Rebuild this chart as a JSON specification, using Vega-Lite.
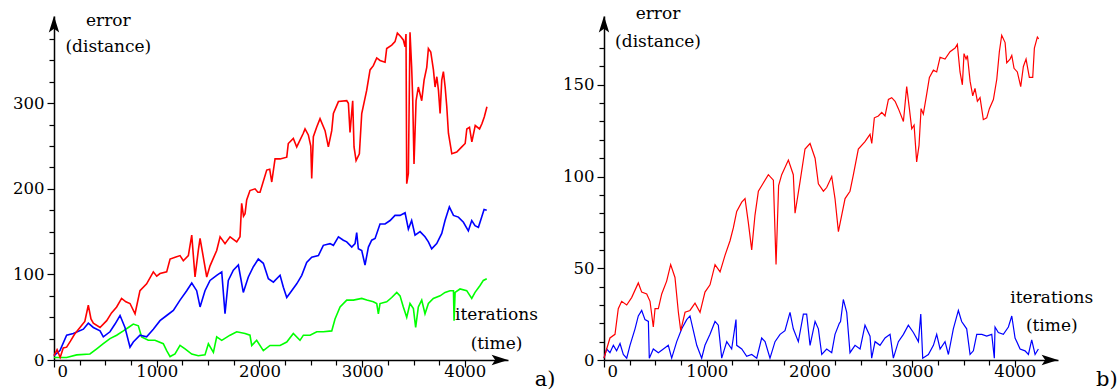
{
  "$schema": "https://vega.github.io/schema/vega-lite/v6.json",
  "padding": {"left": 12, "top": 5, "right": 0, "bottom": 0},
  "background": "white",
  "spacing": 96,
  "bounds": "flush",
  "datasets": {
    "one": [{}],
    "a": [
      {"s":"green","x":0,"y":3},{"s":"green","x":123,"y":3},{"s":"green","x":221,"y":6},{"s":"green","x":350,"y":7},{"s":"green","x":416,"y":13},{"s":"green","x":480,"y":19},{"s":"green","x":545,"y":25},{"s":"green","x":610,"y":29},{"s":"green","x":675,"y":34},{"s":"green","x":724,"y":38},{"s":"green","x":772,"y":42},{"s":"green","x":821,"y":40},{"s":"green","x":853,"y":27},{"s":"green","x":918,"y":23},{"s":"green","x":983,"y":23},{"s":"green","x":1064,"y":19},{"s":"green","x":1097,"y":11},{"s":"green","x":1130,"y":4},{"s":"green","x":1178,"y":7},{"s":"green","x":1227,"y":17},{"s":"green","x":1276,"y":13},{"s":"green","x":1341,"y":7},{"s":"green","x":1405,"y":5},{"s":"green","x":1470,"y":6},{"s":"green","x":1503,"y":19},{"s":"green","x":1552,"y":9},{"s":"green","x":1584,"y":27},{"s":"green","x":1633,"y":23},{"s":"green","x":1714,"y":29},{"s":"green","x":1779,"y":33},{"s":"green","x":1860,"y":31},{"s":"green","x":1908,"y":29},{"s":"green","x":1925,"y":17},{"s":"green","x":1973,"y":23},{"s":"green","x":2038,"y":11},{"s":"green","x":2103,"y":17},{"s":"green","x":2201,"y":17},{"s":"green","x":2266,"y":21},{"s":"green","x":2330,"y":31},{"s":"green","x":2395,"y":23},{"s":"green","x":2428,"y":29},{"s":"green","x":2493,"y":29},{"s":"green","x":2558,"y":33},{"s":"green","x":2622,"y":33},{"s":"green","x":2704,"y":34},{"s":"green","x":2736,"y":48},{"s":"green","x":2785,"y":62},{"s":"green","x":2850,"y":70},{"s":"green","x":2915,"y":70},{"s":"green","x":2996,"y":72},{"s":"green","x":3045,"y":70},{"s":"green","x":3109,"y":68},{"s":"green","x":3142,"y":66},{"s":"green","x":3158,"y":54},{"s":"green","x":3174,"y":66},{"s":"green","x":3239,"y":68},{"s":"green","x":3288,"y":73},{"s":"green","x":3337,"y":79},{"s":"green","x":3369,"y":75},{"s":"green","x":3401,"y":62},{"s":"green","x":3434,"y":50},{"s":"green","x":3466,"y":66},{"s":"green","x":3499,"y":60},{"s":"green","x":3521,"y":38},{"s":"green","x":3547,"y":62},{"s":"green","x":3580,"y":70},{"s":"green","x":3612,"y":54},{"s":"green","x":3645,"y":66},{"s":"green","x":3693,"y":72},{"s":"green","x":3759,"y":75},{"s":"green","x":3807,"y":79},{"s":"green","x":3856,"y":81},{"s":"green","x":3889,"y":81},{"s":"green","x":3895,"y":46},{"s":"green","x":3905,"y":79},{"s":"green","x":3953,"y":83},{"s":"green","x":4018,"y":81},{"s":"green","x":4067,"y":72},{"s":"green","x":4099,"y":79},{"s":"green","x":4148,"y":87},{"s":"green","x":4180,"y":93},{"s":"green","x":4213,"y":95},
      {"s":"blue","x":0,"y":5},{"s":"blue","x":58,"y":11},{"s":"blue","x":123,"y":29},{"s":"blue","x":188,"y":31},{"s":"blue","x":286,"y":36},{"s":"blue","x":334,"y":43},{"s":"blue","x":383,"y":38},{"s":"blue","x":448,"y":34},{"s":"blue","x":480,"y":27},{"s":"blue","x":545,"y":33},{"s":"blue","x":594,"y":42},{"s":"blue","x":643,"y":52},{"s":"blue","x":691,"y":38},{"s":"blue","x":740,"y":15},{"s":"blue","x":772,"y":21},{"s":"blue","x":837,"y":29},{"s":"blue","x":902,"y":27},{"s":"blue","x":967,"y":36},{"s":"blue","x":1032,"y":46},{"s":"blue","x":1097,"y":52},{"s":"blue","x":1162,"y":58},{"s":"blue","x":1227,"y":70},{"s":"blue","x":1292,"y":81},{"s":"blue","x":1341,"y":90},{"s":"blue","x":1389,"y":81},{"s":"blue","x":1422,"y":62},{"s":"blue","x":1470,"y":81},{"s":"blue","x":1519,"y":93},{"s":"blue","x":1584,"y":99},{"s":"blue","x":1633,"y":103},{"s":"blue","x":1665,"y":54},{"s":"blue","x":1697,"y":93},{"s":"blue","x":1746,"y":105},{"s":"blue","x":1795,"y":111},{"s":"blue","x":1843,"y":79},{"s":"blue","x":1892,"y":97},{"s":"blue","x":1941,"y":109},{"s":"blue","x":1989,"y":118},{"s":"blue","x":2038,"y":113},{"s":"blue","x":2087,"y":95},{"s":"blue","x":2136,"y":91},{"s":"blue","x":2201,"y":99},{"s":"blue","x":2233,"y":85},{"s":"blue","x":2266,"y":73},{"s":"blue","x":2314,"y":81},{"s":"blue","x":2363,"y":89},{"s":"blue","x":2412,"y":99},{"s":"blue","x":2460,"y":114},{"s":"blue","x":2509,"y":120},{"s":"blue","x":2574,"y":122},{"s":"blue","x":2622,"y":134},{"s":"blue","x":2687,"y":136},{"s":"blue","x":2720,"y":134},{"s":"blue","x":2769,"y":144},{"s":"blue","x":2817,"y":140},{"s":"blue","x":2850,"y":138},{"s":"blue","x":2899,"y":132},{"s":"blue","x":2931,"y":136},{"s":"blue","x":2947,"y":149},{"s":"blue","x":2963,"y":130},{"s":"blue","x":2996,"y":128},{"s":"blue","x":3028,"y":111},{"s":"blue","x":3061,"y":132},{"s":"blue","x":3093,"y":140},{"s":"blue","x":3126,"y":142},{"s":"blue","x":3174,"y":159},{"s":"blue","x":3223,"y":159},{"s":"blue","x":3272,"y":163},{"s":"blue","x":3320,"y":169},{"s":"blue","x":3369,"y":169},{"s":"blue","x":3418,"y":172},{"s":"blue","x":3450,"y":153},{"s":"blue","x":3482,"y":163},{"s":"blue","x":3515,"y":146},{"s":"blue","x":3564,"y":150},{"s":"blue","x":3612,"y":144},{"s":"blue","x":3645,"y":138},{"s":"blue","x":3677,"y":130},{"s":"blue","x":3726,"y":136},{"s":"blue","x":3775,"y":148},{"s":"blue","x":3807,"y":163},{"s":"blue","x":3849,"y":179},{"s":"blue","x":3889,"y":169},{"s":"blue","x":3937,"y":167},{"s":"blue","x":3986,"y":161},{"s":"blue","x":4034,"y":151},{"s":"blue","x":4067,"y":163},{"s":"blue","x":4099,"y":157},{"s":"blue","x":4132,"y":155},{"s":"blue","x":4164,"y":167},{"s":"blue","x":4187,"y":176},{"s":"blue","x":4213,"y":175},
      {"s":"red","x":0,"y":5},{"s":"red","x":30,"y":12},{"s":"red","x":60,"y":3},{"s":"red","x":90,"y":14},{"s":"red","x":123,"y":15},{"s":"red","x":160,"y":22},{"s":"red","x":200,"y":30},{"s":"red","x":253,"y":38},{"s":"red","x":300,"y":45},{"s":"red","x":334,"y":64},{"s":"red","x":360,"y":48},{"s":"red","x":383,"y":43},{"s":"red","x":448,"y":38},{"s":"red","x":513,"y":46},{"s":"red","x":560,"y":55},{"s":"red","x":610,"y":62},{"s":"red","x":658,"y":72},{"s":"red","x":700,"y":68},{"s":"red","x":740,"y":66},{"s":"red","x":789,"y":54},{"s":"red","x":837,"y":81},{"s":"red","x":902,"y":89},{"s":"red","x":967,"y":103},{"s":"red","x":1000,"y":98},{"s":"red","x":1032,"y":101},{"s":"red","x":1097,"y":103},{"s":"red","x":1130,"y":118},{"s":"red","x":1180,"y":120},{"s":"red","x":1227,"y":122},{"s":"red","x":1259,"y":116},{"s":"red","x":1308,"y":122},{"s":"red","x":1341,"y":146},{"s":"red","x":1373,"y":97},{"s":"red","x":1405,"y":128},{"s":"red","x":1422,"y":142},{"s":"red","x":1454,"y":120},{"s":"red","x":1487,"y":97},{"s":"red","x":1519,"y":110},{"s":"red","x":1584,"y":128},{"s":"red","x":1617,"y":144},{"s":"red","x":1665,"y":136},{"s":"red","x":1714,"y":144},{"s":"red","x":1779,"y":138},{"s":"red","x":1811,"y":144},{"s":"red","x":1827,"y":183},{"s":"red","x":1845,"y":168},{"s":"red","x":1860,"y":171},{"s":"red","x":1876,"y":187},{"s":"red","x":1908,"y":198},{"s":"red","x":1957,"y":200},{"s":"red","x":1985,"y":196},{"s":"red","x":2006,"y":196},{"s":"red","x":2071,"y":222},{"s":"red","x":2100,"y":223},{"s":"red","x":2120,"y":208},{"s":"red","x":2152,"y":235},{"s":"red","x":2201,"y":235},{"s":"red","x":2266,"y":237},{"s":"red","x":2281,"y":253},{"s":"red","x":2330,"y":259},{"s":"red","x":2363,"y":249},{"s":"red","x":2427,"y":265},{"s":"red","x":2444,"y":270},{"s":"red","x":2476,"y":263},{"s":"red","x":2500,"y":250},{"s":"red","x":2509,"y":212},{"s":"red","x":2525,"y":261},{"s":"red","x":2557,"y":272},{"s":"red","x":2590,"y":282},{"s":"red","x":2639,"y":268},{"s":"red","x":2671,"y":249},{"s":"red","x":2704,"y":268},{"s":"red","x":2720,"y":288},{"s":"red","x":2769,"y":302},{"s":"red","x":2850,"y":303},{"s":"red","x":2866,"y":300},{"s":"red","x":2882,"y":266},{"s":"red","x":2908,"y":303},{"s":"red","x":2921,"y":249},{"s":"red","x":2941,"y":233},{"s":"red","x":2973,"y":241},{"s":"red","x":2996,"y":288},{"s":"red","x":3044,"y":315},{"s":"red","x":3077,"y":339},{"s":"red","x":3109,"y":344},{"s":"red","x":3142,"y":353},{"s":"red","x":3174,"y":350},{"s":"red","x":3223,"y":348},{"s":"red","x":3239,"y":364},{"s":"red","x":3288,"y":368},{"s":"red","x":3320,"y":372},{"s":"red","x":3343,"y":382},{"s":"red","x":3375,"y":378},{"s":"red","x":3401,"y":374},{"s":"red","x":3418,"y":366},{"s":"red","x":3427,"y":381},{"s":"red","x":3434,"y":206},{"s":"red","x":3450,"y":218},{"s":"red","x":3466,"y":383},{"s":"red","x":3482,"y":342},{"s":"red","x":3492,"y":307},{"s":"red","x":3505,"y":229},{"s":"red","x":3525,"y":303},{"s":"red","x":3547,"y":319},{"s":"red","x":3580,"y":303},{"s":"red","x":3603,"y":327},{"s":"red","x":3629,"y":342},{"s":"red","x":3645,"y":364},{"s":"red","x":3668,"y":360},{"s":"red","x":3694,"y":339},{"s":"red","x":3710,"y":319},{"s":"red","x":3727,"y":331},{"s":"red","x":3743,"y":315},{"s":"red","x":3759,"y":288},{"s":"red","x":3775,"y":327},{"s":"red","x":3791,"y":337},{"s":"red","x":3808,"y":319},{"s":"red","x":3824,"y":296},{"s":"red","x":3840,"y":265},{"s":"red","x":3873,"y":241},{"s":"red","x":3921,"y":243},{"s":"red","x":3970,"y":249},{"s":"red","x":4003,"y":253},{"s":"red","x":4019,"y":270},{"s":"red","x":4045,"y":272},{"s":"red","x":4068,"y":255},{"s":"red","x":4101,"y":274},{"s":"red","x":4143,"y":270},{"s":"red","x":4166,"y":276},{"s":"red","x":4189,"y":284},{"s":"red","x":4215,"y":296}
    ],
    "b": [
      {"s":"blue","x":0,"y":1},{"s":"blue","x":26,"y":6},{"s":"blue","x":58,"y":4},{"s":"blue","x":91,"y":8},{"s":"blue","x":123,"y":5},{"s":"blue","x":156,"y":9},{"s":"blue","x":188,"y":3},{"s":"blue","x":221,"y":1},{"s":"blue","x":253,"y":8},{"s":"blue","x":302,"y":17},{"s":"blue","x":334,"y":24},{"s":"blue","x":367,"y":27},{"s":"blue","x":399,"y":22},{"s":"blue","x":432,"y":21},{"s":"blue","x":441,"y":1},{"s":"blue","x":480,"y":6},{"s":"blue","x":529,"y":4},{"s":"blue","x":578,"y":6},{"s":"blue","x":626,"y":8},{"s":"blue","x":659,"y":1},{"s":"blue","x":708,"y":10},{"s":"blue","x":757,"y":17},{"s":"blue","x":805,"y":22},{"s":"blue","x":837,"y":24},{"s":"blue","x":870,"y":16},{"s":"blue","x":903,"y":8},{"s":"blue","x":951,"y":1},{"s":"blue","x":983,"y":8},{"s":"blue","x":1032,"y":14},{"s":"blue","x":1081,"y":21},{"s":"blue","x":1113,"y":19},{"s":"blue","x":1146,"y":1},{"s":"blue","x":1195,"y":10},{"s":"blue","x":1243,"y":6},{"s":"blue","x":1285,"y":22},{"s":"blue","x":1292,"y":8},{"s":"blue","x":1341,"y":6},{"s":"blue","x":1389,"y":2},{"s":"blue","x":1438,"y":3},{"s":"blue","x":1487,"y":1},{"s":"blue","x":1535,"y":12},{"s":"blue","x":1568,"y":10},{"s":"blue","x":1616,"y":1},{"s":"blue","x":1665,"y":10},{"s":"blue","x":1714,"y":14},{"s":"blue","x":1762,"y":16},{"s":"blue","x":1811,"y":26},{"s":"blue","x":1843,"y":17},{"s":"blue","x":1892,"y":10},{"s":"blue","x":1941,"y":25},{"s":"blue","x":1973,"y":25},{"s":"blue","x":2006,"y":8},{"s":"blue","x":2055,"y":21},{"s":"blue","x":2087,"y":17},{"s":"blue","x":2120,"y":3},{"s":"blue","x":2168,"y":6},{"s":"blue","x":2217,"y":4},{"s":"blue","x":2249,"y":14},{"s":"blue","x":2291,"y":20},{"s":"blue","x":2303,"y":21},{"s":"blue","x":2330,"y":33},{"s":"blue","x":2363,"y":26},{"s":"blue","x":2395,"y":4},{"s":"blue","x":2444,"y":8},{"s":"blue","x":2493,"y":6},{"s":"blue","x":2541,"y":19},{"s":"blue","x":2590,"y":13},{"s":"blue","x":2606,"y":1},{"s":"blue","x":2639,"y":10},{"s":"blue","x":2687,"y":8},{"s":"blue","x":2736,"y":12},{"s":"blue","x":2785,"y":14},{"s":"blue","x":2817,"y":1},{"s":"blue","x":2866,"y":10},{"s":"blue","x":2915,"y":14},{"s":"blue","x":2963,"y":19},{"s":"blue","x":3012,"y":15},{"s":"blue","x":3061,"y":10},{"s":"blue","x":3084,"y":25},{"s":"blue","x":3103,"y":1},{"s":"blue","x":3158,"y":3},{"s":"blue","x":3207,"y":8},{"s":"blue","x":3239,"y":14},{"s":"blue","x":3272,"y":6},{"s":"blue","x":3320,"y":10},{"s":"blue","x":3353,"y":3},{"s":"blue","x":3401,"y":17},{"s":"blue","x":3450,"y":27},{"s":"blue","x":3482,"y":21},{"s":"blue","x":3531,"y":17},{"s":"blue","x":3564,"y":3},{"s":"blue","x":3596,"y":5},{"s":"blue","x":3629,"y":14},{"s":"blue","x":3678,"y":14},{"s":"blue","x":3726,"y":13},{"s":"blue","x":3775,"y":14},{"s":"blue","x":3800,"y":1},{"s":"blue","x":3807,"y":18},{"s":"blue","x":3839,"y":15},{"s":"blue","x":3888,"y":14},{"s":"blue","x":3937,"y":18},{"s":"blue","x":3970,"y":24},{"s":"blue","x":4002,"y":12},{"s":"blue","x":4051,"y":6},{"s":"blue","x":4099,"y":5},{"s":"blue","x":4132,"y":3},{"s":"blue","x":4164,"y":11},{"s":"blue","x":4197,"y":3},{"s":"blue","x":4229,"y":6},
      {"s":"red","x":0,"y":1},{"s":"red","x":26,"y":6},{"s":"red","x":58,"y":12},{"s":"red","x":107,"y":14},{"s":"red","x":139,"y":28},{"s":"red","x":172,"y":32},{"s":"red","x":221,"y":30},{"s":"red","x":269,"y":34},{"s":"red","x":334,"y":42},{"s":"red","x":367,"y":37},{"s":"red","x":416,"y":36},{"s":"red","x":448,"y":32},{"s":"red","x":480,"y":18},{"s":"red","x":497,"y":28},{"s":"red","x":529,"y":28},{"s":"red","x":562,"y":36},{"s":"red","x":610,"y":43},{"s":"red","x":649,"y":52},{"s":"red","x":691,"y":45},{"s":"red","x":724,"y":26},{"s":"red","x":747,"y":16},{"s":"red","x":789,"y":26},{"s":"red","x":837,"y":27},{"s":"red","x":886,"y":31},{"s":"red","x":935,"y":26},{"s":"red","x":983,"y":37},{"s":"red","x":1032,"y":41},{"s":"red","x":1081,"y":52},{"s":"red","x":1130,"y":48},{"s":"red","x":1178,"y":57},{"s":"red","x":1227,"y":65},{"s":"red","x":1259,"y":72},{"s":"red","x":1292,"y":81},{"s":"red","x":1341,"y":86},{"s":"red","x":1373,"y":88},{"s":"red","x":1405,"y":75},{"s":"red","x":1438,"y":60},{"s":"red","x":1470,"y":79},{"s":"red","x":1503,"y":92},{"s":"red","x":1535,"y":95},{"s":"red","x":1600,"y":101},{"s":"red","x":1649,"y":98},{"s":"red","x":1675,"y":52},{"s":"red","x":1700,"y":95},{"s":"red","x":1730,"y":101},{"s":"red","x":1795,"y":109},{"s":"red","x":1843,"y":101},{"s":"red","x":1860,"y":80},{"s":"red","x":1908,"y":97},{"s":"red","x":1957,"y":115},{"s":"red","x":2006,"y":118},{"s":"red","x":2055,"y":110},{"s":"red","x":2087,"y":96},{"s":"red","x":2136,"y":92},{"s":"red","x":2168,"y":94},{"s":"red","x":2217,"y":100},{"s":"red","x":2249,"y":88},{"s":"red","x":2282,"y":70},{"s":"red","x":2347,"y":88},{"s":"red","x":2395,"y":92},{"s":"red","x":2428,"y":101},{"s":"red","x":2476,"y":115},{"s":"red","x":2541,"y":119},{"s":"red","x":2590,"y":123},{"s":"red","x":2607,"y":118},{"s":"red","x":2632,"y":132},{"s":"red","x":2671,"y":133},{"s":"red","x":2704,"y":135},{"s":"red","x":2736,"y":133},{"s":"red","x":2769,"y":142},{"s":"red","x":2801,"y":143},{"s":"red","x":2834,"y":141},{"s":"red","x":2866,"y":137},{"s":"red","x":2915,"y":130},{"s":"red","x":2947,"y":149},{"s":"red","x":2973,"y":137},{"s":"red","x":2996,"y":126},{"s":"red","x":3019,"y":128},{"s":"red","x":3044,"y":108},{"s":"red","x":3067,"y":117},{"s":"red","x":3087,"y":137},{"s":"red","x":3109,"y":134},{"s":"red","x":3142,"y":145},{"s":"red","x":3168,"y":154},{"s":"red","x":3207,"y":158},{"s":"red","x":3239,"y":157},{"s":"red","x":3272,"y":165},{"s":"red","x":3320,"y":164},{"s":"red","x":3369,"y":168},{"s":"red","x":3418,"y":170},{"s":"red","x":3440,"y":172},{"s":"red","x":3466,"y":157},{"s":"red","x":3489,"y":150},{"s":"red","x":3505,"y":167},{"s":"red","x":3525,"y":164},{"s":"red","x":3538,"y":166},{"s":"red","x":3564,"y":152},{"s":"red","x":3590,"y":144},{"s":"red","x":3612,"y":148},{"s":"red","x":3635,"y":141},{"s":"red","x":3661,"y":143},{"s":"red","x":3693,"y":131},{"s":"red","x":3726,"y":132},{"s":"red","x":3752,"y":137},{"s":"red","x":3791,"y":142},{"s":"red","x":3824,"y":153},{"s":"red","x":3849,"y":168},{"s":"red","x":3872,"y":177},{"s":"red","x":3905,"y":173},{"s":"red","x":3921,"y":162},{"s":"red","x":3953,"y":164},{"s":"red","x":3970,"y":166},{"s":"red","x":3992,"y":159},{"s":"red","x":4024,"y":157},{"s":"red","x":4057,"y":149},{"s":"red","x":4083,"y":160},{"s":"red","x":4109,"y":164},{"s":"red","x":4141,"y":154},{"s":"red","x":4174,"y":154},{"s":"red","x":4190,"y":170},{"s":"red","x":4219,"y":176},{"s":"red","x":4232,"y":175}
    ]
  },
  "hconcat": [
    {
      "width": 454,
      "height": 344,
      "resolve": {"axis": {"x": "independent", "y": "independent"}},
      "layer": [
        {
          "data": {"name": "a"},
          "mark": {"type": "line", "strokeWidth": 1.6},
          "encoding": {
            "x": {"field": "x", "type": "quantitative", "scale": {"domain": [0, 4420], "nice": false, "zero": false},
              "axis": {"title": null, "orient": "bottom", "values": [0,1000,2000,3000,4000], "format": "d", "tickSize": 7,
                "labelAlign": {"condition": {"test": "datum.value === 0", "value": "left"}, "value": "center"},
                "labelOffset": {"condition": {"test": "datum.value === 0", "value": 3}, "value": 0},
                "labelPadding": -4}},
            "y": {"field": "y", "type": "quantitative", "scale": {"domain": [0, 402], "nice": false},
              "axis": {"title": null, "orient": "left", "values": [0,100,200,300], "tickSize": 7, "labelPadding": 3}},
            "color": {"field": "s", "type": "nominal", "legend": null,
              "scale": {"domain": ["green", "blue", "red"], "range": ["#00ff00", "#0000ff", "#ff0000"]}},
            "order": {"field": "x", "type": "quantitative"}
          }
        },
        {
          "data": {"name": "one"},
          "mark": {"type": "point", "shape": "M0,0L-0.65,2.05L0,1.6L0.65,2.05Z", "filled": true, "size": 256, "color": "black", "opacity": 1},
          "encoding": {
            "x": {"datum": 0, "type": "quantitative", "axis": {"title": null, "orient": "bottom", "values": [250,500,750,1250,1500,1750,2250,2500,2750,3250,3500,3750], "labels": false, "domain": false, "tickSize": 5}},
            "y": {"datum": 402, "type": "quantitative", "axis": {"title": null, "orient": "left", "values": [25,50,75,125,150,175,225,250,275,325,350,375], "labels": false, "domain": false, "tickSize": 5}}
          }
        },
        {
          "data": {"name": "one"},
          "mark": {"type": "point", "shape": "M0,0L-2.05,-0.65L-1.6,0L-2.05,0.65Z", "filled": true, "size": 256, "color": "black", "opacity": 1},
          "encoding": {"x": {"datum": 4420, "type": "quantitative", "axis": null}, "y": {"datum": 0, "type": "quantitative", "axis": null}}
        },
        {
          "data": {"name": "one"},
          "mark": {"type": "text", "align": "center", "baseline": "middle", "lineHeight": 26, "fontSize": 17, "font": "DejaVu Serif", "color": "black"},
          "encoding": {"x": {"datum": 529, "type": "quantitative", "axis": null}, "y": {"datum": 396, "type": "quantitative", "axis": null}, "text": {"value": ["error", "(distance)"]}}
        },
        {
          "data": {"name": "one"},
          "mark": {"type": "text", "align": "center", "baseline": "middle", "lineHeight": 29, "fontSize": 17, "font": "DejaVu Serif", "color": "black"},
          "encoding": {"x": {"datum": 4308, "type": "quantitative", "axis": null}, "y": {"datum": 52.6, "type": "quantitative", "axis": null}, "text": {"value": ["iterations", "(time)"]}}
        },
        {
          "data": {"name": "one"},
          "mark": {"type": "text", "align": "center", "baseline": "middle", "fontSize": 21, "font": "DejaVu Serif", "color": "black"},
          "encoding": {"x": {"datum": 4781, "type": "quantitative", "axis": null}, "y": {"datum": -23, "type": "quantitative", "axis": null}, "text": {"value": "a)"}}
        }
      ]
    },
    {
      "width": 454,
      "height": 344,
      "resolve": {"axis": {"x": "independent", "y": "independent"}},
      "layer": [
        {
          "data": {"name": "b"},
          "mark": {"type": "line", "strokeWidth": 1.2},
          "encoding": {
            "x": {"field": "x", "type": "quantitative", "scale": {"domain": [0, 4420], "nice": false, "zero": false},
              "axis": {"title": null, "orient": "bottom", "values": [0,1000,2000,3000,4000], "format": "d", "tickSize": 7,
                "labelAlign": {"condition": {"test": "datum.value === 0", "value": "left"}, "value": "center"},
                "labelOffset": {"condition": {"test": "datum.value === 0", "value": 3}, "value": 0},
                "labelPadding": -4}},
            "y": {"field": "y", "type": "quantitative", "scale": {"domain": [0, 187.5], "nice": false},
              "axis": {"title": null, "orient": "left", "values": [0,50,100,150], "tickSize": 7, "labelPadding": 3}},
            "color": {"field": "s", "type": "nominal", "legend": null,
              "scale": {"domain": ["blue", "red"], "range": ["#0000ff", "#ff0000"]}},
            "order": {"field": "x", "type": "quantitative"}
          }
        },
        {
          "data": {"name": "one"},
          "mark": {"type": "point", "shape": "M0,0L-0.65,2.05L0,1.6L0.65,2.05Z", "filled": true, "size": 256, "color": "black", "opacity": 1},
          "encoding": {
            "x": {"datum": 0, "type": "quantitative", "axis": {"title": null, "orient": "bottom", "values": [250,500,750,1250,1500,1750,2250,2500,2750,3250,3500,3750], "labels": false, "domain": false, "tickSize": 5}},
            "y": {"datum": 187.5, "type": "quantitative", "axis": {"title": null, "orient": "left", "values": [10,20,30,40,60,70,80,90,110,120,130,140,160,170], "labels": false, "domain": false, "tickSize": 5}}
          }
        },
        {
          "data": {"name": "one"},
          "mark": {"type": "point", "shape": "M0,0L-2.05,-0.65L-1.6,0L-2.05,0.65Z", "filled": true, "size": 256, "color": "black", "opacity": 1},
          "encoding": {"x": {"datum": 4420, "type": "quantitative", "axis": null}, "y": {"datum": 0, "type": "quantitative", "axis": null}}
        },
        {
          "data": {"name": "one"},
          "mark": {"type": "text", "align": "center", "baseline": "middle", "lineHeight": 27.5, "fontSize": 17, "font": "DejaVu Serif", "color": "black"},
          "encoding": {"x": {"datum": 526, "type": "quantitative", "axis": null}, "y": {"datum": 188.4, "type": "quantitative", "axis": null}, "text": {"value": ["error", "(distance)"]}}
        },
        {
          "data": {"name": "one"},
          "mark": {"type": "text", "align": "center", "baseline": "middle", "lineHeight": 28, "fontSize": 17, "font": "DejaVu Serif", "color": "black"},
          "encoding": {"x": {"datum": 4359, "type": "quantitative", "axis": null}, "y": {"datum": 34, "type": "quantitative", "axis": null}, "text": {"value": ["iterations", "(time)"]}}
        },
        {
          "data": {"name": "one"},
          "mark": {"type": "text", "align": "center", "baseline": "middle", "fontSize": 21, "font": "DejaVu Serif", "color": "black"},
          "encoding": {"x": {"datum": 4895, "type": "quantitative", "axis": null}, "y": {"datum": -10.8, "type": "quantitative", "axis": null}, "text": {"value": "b)"}}
        }
      ]
    }
  ],
  "config": {
    "view": {"stroke": null},
    "axis": {"grid": false, "domainColor": "black", "domainWidth": 1.5, "tickColor": "black", "tickWidth": 1.2,
      "labelFont": "DejaVu Serif", "labelFontSize": 16.5, "labelColor": "black", "labelOverlap": false}
  }
}
